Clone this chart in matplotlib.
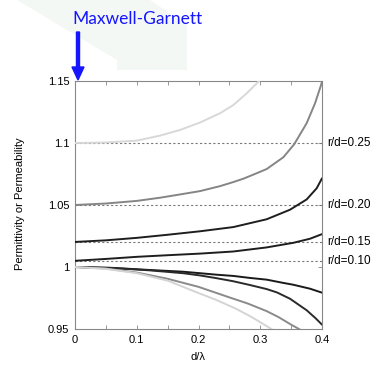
import matplotlib
matplotlib.use("Agg")
import matplotlib.pyplot as plt
from matplotlib.patches import Polygon, FancyArrow

plt.rcParams['font.family'] = ['Liberation Sans', 'DejaVu Sans']

# permittivity branches (above 1)
d_25u = [0, 0.05, 0.1, 0.138, 0.17, 0.2024, 0.2348, 0.2564, 0.2781, 0.2943, 0.30]
e_25u = [1.1, 1.1004, 1.1019, 1.106, 1.1105, 1.1165, 1.124, 1.1306, 1.1401, 1.1481, 1.151]
d_20u = [0, 0.05, 0.1, 0.138, 0.17, 0.2024, 0.2348, 0.2564, 0.2726, 0.2888, 0.3104,
         0.3374, 0.355, 0.3752, 0.3887, 0.398, 0.4]
e_20u = [1.05, 1.0512, 1.0533, 1.0559, 1.0585, 1.0612, 1.0652, 1.0685, 1.0712, 1.0745, 1.079,
         1.0885, 1.099, 1.116, 1.132, 1.146, 1.1494]
d_15u = [0, 0.05, 0.1, 0.15, 0.2024, 0.2564, 0.3104, 0.3482, 0.3752, 0.3914, 0.4]
e_15u = [1.0202, 1.0215, 1.0235, 1.026, 1.0288, 1.0322, 1.0385, 1.0462, 1.0545, 1.0635, 1.0715]
d_10u = [0, 0.05, 0.1, 0.15, 0.2024, 0.2564, 0.3104, 0.3535, 0.3806, 0.4]
e_10u = [1.005, 1.0065, 1.0082, 1.0095, 1.0108, 1.0125, 1.0158, 1.0195, 1.0228, 1.0265]

# permeability branches (below 1)
d_10l = [0, 0.06, 0.121, 0.175, 0.2024, 0.229, 0.2564, 0.283, 0.3104, 0.337, 0.3535, 0.3806, 0.4]
m_10l = [1.0, 0.9993, 0.9976, 0.9962, 0.995, 0.9938, 0.9928, 0.9912, 0.9898, 0.9872, 0.9857, 0.9825, 0.9793]
d_15l = [0, 0.06, 0.121, 0.175, 0.2024, 0.229, 0.2564, 0.283, 0.3104, 0.327, 0.3482, 0.3752, 0.39, 0.4]
m_15l = [1.0, 0.9992, 0.9973, 0.995, 0.9932, 0.991, 0.9885, 0.9855, 0.9822, 0.9795, 0.9744, 0.9651, 0.9585, 0.9535]
d_20l = [0, 0.05, 0.1, 0.15, 0.2, 0.25, 0.28, 0.31, 0.33, 0.35, 0.3628, 0.367]
m_20l = [1.0, 0.9988, 0.9955, 0.9905, 0.984, 0.9755, 0.9705, 0.9645, 0.9595, 0.9535, 0.95, 0.9485]
d_25l = [0, 0.05, 0.1, 0.15, 0.2, 0.229, 0.26, 0.283, 0.3, 0.318, 0.325]
m_25l = [1.0, 0.9985, 0.995, 0.989, 0.979, 0.9734, 0.9665, 0.9605, 0.9555, 0.95, 0.9475]

static_vals = [1.1, 1.05, 1.0198, 1.0048]
static_labels = ['r/d=0.25', 'r/d=0.20', 'r/d=0.15', 'r/d=0.10']

W, H = 376, 373
fig = plt.figure(figsize=(W / 100, H / 100), dpi=100)

def fx(x):
    return x / W

def fy(y):
    return 1 - y / H

# faint background shape behind the title
bg = Polygon([(fx(17), fy(0)), (fx(150), fy(0)), (fx(187), fy(25)), (fx(187), fy(70)),
              (fx(117), fy(70)), (fx(117), fy(60))],
             closed=True, transform=fig.transFigure, facecolor='#f4f8f5', edgecolor='none', zorder=0)
fig.add_artist(bg)

ax = fig.add_axes([fx(75), fy(329), (322 - 75) / W, (329 - 81) / H])
ax.set_facecolor('none')

curves = [
    (d_25u, e_25u, '#d8d8d8'),
    (d_20u, e_20u, '#858585'),
    (d_15u, e_15u, '#1e1e1e'),
    (d_10u, e_10u, '#1e1e1e'),
    (d_10l, m_10l, '#1a1a1a'),
    (d_15l, m_15l, '#2a2a2a'),
    (d_20l, m_20l, '#8a8a8a'),
    (d_25l, m_25l, '#d4d4d4'),
]
for xs, ys, c in curves:
    ax.plot(xs, ys, color=c, lw=1.4, solid_capstyle='round', solid_joinstyle='round', zorder=3)

for v, lab in zip(static_vals, static_labels):
    ax.plot([0, 0.4], [v, v], color='#7a7a7a', lw=0.8, dashes=(2, 2), zorder=2)
    ax.text(0.4085, v, lab, fontsize=8.5, va='center', ha='left')

ax.set_xlim(0, 0.4)
ax.set_ylim(0.95, 1.15)
ax.set_xticks([0, 0.05, 0.1, 0.15, 0.2, 0.25, 0.3, 0.35, 0.4])
ax.set_xticklabels(['0', '', '0.1', '', '0.2', '', '0.3', '', '0.4'])
ax.set_yticks([0.95, 1.0, 1.05, 1.1, 1.15])
ax.set_yticklabels(['0.95', '1', '1.05', '1.1', '1.15'])
ax.tick_params(direction='in', top=True, right=True, length=3, width=0.6,
               color='#888888', labelsize=8, pad=4)
for s in ax.spines.values():
    s.set_color('#888888')
    s.set_linewidth(0.8)

fig.text(fx(198), fy(357), 'd/\u03bb', fontsize=8, ha='center', va='center')
fig.text(fx(20), fy(204), 'Permittivity or Permeability', fontsize=8,
         rotation=90, ha='center', va='center')

fig.text(fx(72), fy(19), 'Maxwell-Garnett', fontsize=12.5, color='#1515ff',
         ha='left', va='center', family=['Lato', 'DejaVu Sans'])
arr = FancyArrow(fx(78), fy(32), 0, fy(80) - fy(32), width=3 / H, head_width=12 / W,
                 head_length=13 / H, length_includes_head=True,
                 transform=fig.transFigure, color='#1515ff', zorder=5)
fig.add_artist(arr)

fig.savefig('out.png', dpi=100)
